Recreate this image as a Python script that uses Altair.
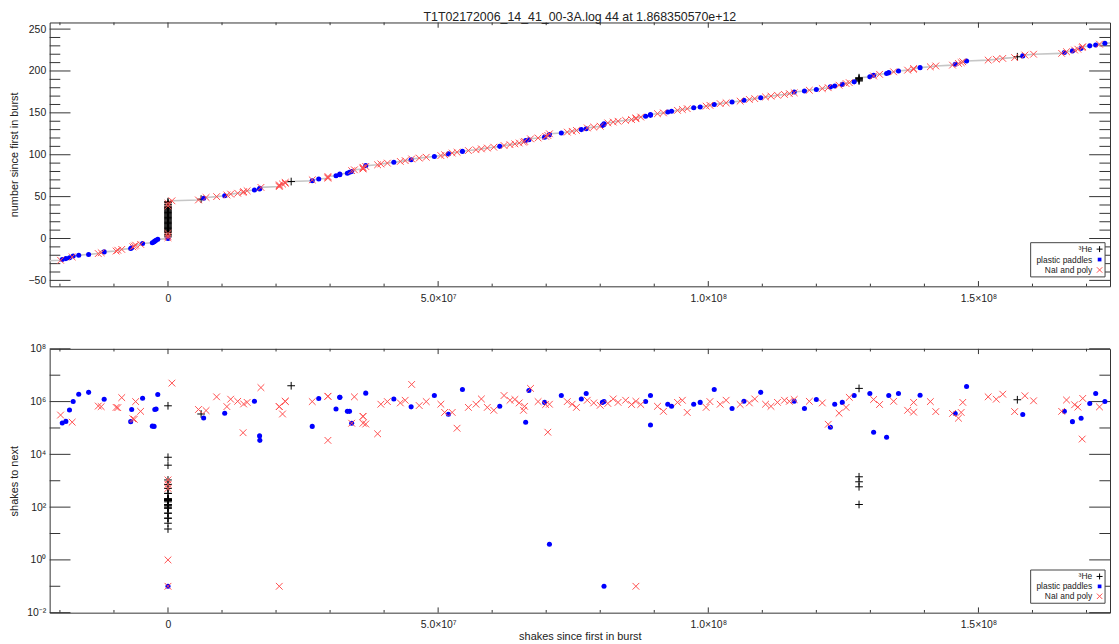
import altair as alt
import numpy as np
import pandas as pd

FONT = "Liberation Sans"
TITLE = "T1T02172006_14_41_00-3A.log 44 at 1.868350570e+12"
FRAME = "#333333"
KIND_NAMES = {"H": "³He", "P": "plastic paddles", "N": "NaI and poly"}
LEGEND_ORDER = ["H", "P", "N"]

# ---- events -------------------------------------------------------------
# x: shakes since first in burst, in units of 1e6 shakes
# kind: H = 3He, P = plastic paddles, N = NaI and poly
# glog: log10(shakes to next)

# before the burst
pre_x = [-23.5, -19.88, -19.57, -18.9, -18.23, -17.73, -17.55, -16.52, -14.69,
         -12.9, -12.36, -11.81, -9.6, -9.29, -8.56, -6.90, -6.72, -6.5, -6.24,
         -5.99, -5.07, -4.70, -2.9, -2.57, -2.44, -2.2, -1.89]
pre_kind = "NNPPPNPPPNNPNNNPPNNNNPPPPPP"
pre_glog = [5.9, 5.49, 5.19, 5.25, 5.68, 5.22, 6.00, 6.28, 6.35, 5.83, 5.81, 6.09,
            5.78, 5.77, 6.15, 5.24, 5.70, 5.35, 5.33, 6.00, 5.63, 6.13, 5.07, 5.06,
            5.70, 5.72, 6.27]

# the burst itself (all at the first-in-burst time)
burst_x = [0.0, 0.0, 0.0, 0.0, 0.0, 0.0, 0.0, 0.0, 0.0, 0.0,
           0.0, 0.0, 0.0, 0.0, 0.0, 0.0, 0.0, 0.0, 0.0, 0.0,
           0.0, 0.0, 0.0, 0.0, 0.0, 0.0, 0.0, 0.0, 0.0, 0.0,
           0.0, 0.0, 0.0, 0.0, 0.0, 0.0, 0.0, 0.0, 0.0, 0.0,
           0.0, 0.0, 0.0, 0.0, 0.0]
burst_kind = "PNHNHHNHHHHHHHHHHHHHHHHHHHHHHHHHHHHHHHHNHHNHH"
burst_glog = [-1.0, -1.0, 2.27, 0.0, 2.09, 1.96, 3.03,
              2.27, 1.77, 2.27, 1.58, 2.52, 2.20, 1.39, 2.27, 2.30, 1.17,
              2.27, 2.71, 2.05, 2.25, 3.03, 2.32, 1.96, 2.27, 2.86, 2.09,
              3.59, 2.27, 2.30, 1.77, 2.24, 2.52, 2.27, 3.89, 2.09, 2.27,
              1.58, 2.30,
              2.86, 2.27, 2.00, 2.71, 2.27, 5.84]

# after the burst, up to ~4e7
early_x = [0.73, 5.64, 6.13, 6.60, 7.05, 9.00, 10.5, 10.9, 11.6, 12.9, 13.9, 14.0,
           14.65, 16.0, 16.95, 17.0, 17.2, 20.6, 20.6, 20.6, 21.2, 21.7, 21.7, 22.8,
           26.7, 26.7, 27.9, 29.6, 29.6, 29.6, 31.1, 31.8, 31.8, 33.2, 33.6, 34.0,
           34.0, 34.5, 36.1, 36.1, 36.1, 36.6, 36.6, 38.8]
early_kind = "NNHPNNPNNNNNNPPPNNNNNNNHPNPNNNPPPPPPNNNNNNPN"
early_glog = [6.70, 5.70, 5.53, 5.38, 5.66, 6.18, 5.56, 5.81, 6.09, 6.01,
              4.82, 5.91, 5.97, 6.01, 4.70, 4.53, 6.53, 5.81, -1.0, 5.81,
              5.53, 6.01, 6.01, 6.60, 5.06, 6.00, 6.12, 6.20, 4.53, 6.20,
              5.72, 6.16, 6.16, 5.63, 5.63, 5.18, 5.18, 6.18, 5.44, 5.18,
              5.44, 5.15, 6.32, 4.78]

# ~4e7 .. 1.48e8
mid_x = [39.4, 40.6, 41.8, 43.0, 43.9, 45.0, 45.1, 46.5, 47.8, 49.3, 50.5, 51.2,
         51.9, 52.6, 53.5, 54.5, 55.6,
         57.0, 58.0, 59.1, 60.3, 61.4, 62.2, 63.3, 64.2, 65.0, 65.8, 66.0, 66.2,
         66.8, 67.1, 68.5, 69.7, 69.9, 70.3, 70.6, 70.6, 72.8,
         73.9, 74.8, 75.6, 76.5, 77.4, 77.6, 78.8, 80.0, 80.4, 80.7, 80.7, 81.4,
         82.4, 83.3, 84.7, 85.8, 86.6, 86.6, 87.5, 88.4, 89.3, 89.3, 90.6, 91.7,
         92.5, 93.2, 94.3, 95.2, 96.1, 97.3, 98.5, 99.6,
         100.3, 101.1, 102.2, 103.3, 104.4, 105.9, 106.6, 107.6, 108.6, 109.7,
         110.6, 111.6, 112.8, 114.1, 115.0, 115.9, 115.9, 117.8, 118.7, 120.0,
         121.1, 122.2, 122.6, 123.4, 124.2, 124.8, 125.5, 126.1, 127.0,
         127.9, 127.9, 127.9, 127.9, 127.9,
         129.9, 130.6, 130.6, 131.7, 133.0, 133.4, 134.3, 135.2, 136.9, 138.0,
         138.0, 139.2, 141.1, 142.1, 145.2, 145.7, 146.3, 146.8, 147.1]
mid_kind = ("NNPNNPNNNPNNPNNPN"
            "NNNNPNNNNNNPPNNPNNPNP"
            "NNNPPNNNPPPNNNNNNNNPPPNNPPNNNPPN"
            "NPNNPNPNNPNNNNNNPPNPNNPPNPNNP"
            "HHHHH"
            "PNPNPPNPNNNPNNNPNNN")
mid_glog = [5.90, 6.00, 6.10, 5.95, 6.05, 5.80, 6.65, 5.85, 6.00, 6.23, 5.90, 5.59,
            5.52, 5.59, 4.99, 6.46, 5.78,
            5.90, 6.10, 5.78, 5.67, 5.82, 6.23, 6.05, 6.08, 5.95, 5.67, 5.82, 5.22,
            6.42, 6.50, 6.00, 5.97, 5.89, 4.84, 0.59, 5.90, 6.23,
            6.00, 5.90, 5.78, 6.10, 6.31, 6.05, 5.95, 5.86, 5.97, -1.0, 6.00, 5.93,
            6.10, 5.97, 6.05, 5.89, -1.0, 6.01, 5.89, 6.00, 5.11, 6.23, 5.82, 5.63,
            5.90, 5.82, 5.97, 6.05, 5.59, 5.90, 5.97, 5.78,
            6.00, 6.46, 5.90, 6.05, 5.74, 5.89, 6.01, 5.95, 6.10, 6.35,
            5.90, 5.82, 5.97, 6.05, 6.01, 6.08, 6.01, 5.74, 6.01, 6.08,
            5.95, 5.14, 5.03, 5.90, 5.56, 5.97, 5.78, 6.16, 6.23,
            3.15, 2.96, 2.77, 2.10, 6.50,
            6.31, 6.08, 4.84, 5.89, 4.65, 6.23, 6.01, 6.31, 5.67, 5.97,
            5.60, 6.24, 6.00, 5.62, 5.55, 5.55, 5.37, 5.59, 5.97]

# the last stretch
late_x = [147.8, 151.8, 153.3, 154.5, 156.7, 157.2, 158.2, 158.6, 160.2, 165.4,
          165.9, 166.3, 167.4, 167.8, 168.4, 169.0, 169.2, 169.3, 170.6, 171.7,
          172.4, 173.4, 175.5]
late_kind = "PNNNNHPNNNPNPNNPNNPPNPP"
late_glog = [6.57, 6.18, 6.09, 6.28, 5.62, 6.07, 5.51, 6.22, 6.03, 5.63,
             5.63, 6.06, 5.24, 5.88, 5.79, 5.37, 4.58, 6.12, 5.93, 6.31,
             5.80, 6.00, 6.00]

# axis ticks
x_major = [0, 50, 100, 150]
x_minor = [-20, -10, 10, 20, 30, 40, 60, 70, 80, 90, 110, 120, 130, 140, 160, 170]
ytop_major = [-50, 0, 50, 100, 150, 200, 250]
ytop_minor = [-40, -30, -20, -10, 10, 20, 30, 40, 60, 70, 80, 90, 110, 120, 130,
              140, 160, 170, 180, 190, 210, 220, 230, 240]
ybot_major = [1e-2, 1e0, 1e2, 1e4, 1e6, 1e8]
ybot_minor = [1e-1, 1e1, 1e3, 1e5, 1e7]

# ---- assemble --------------------------------------------------------------
xs = pre_x + burst_x + early_x + mid_x + late_x
ks = list(pre_kind + burst_kind + early_kind + mid_kind + late_kind)
gl = pre_glog + burst_glog + early_glog + mid_glog + late_glog
assert len(xs) == len(ks) == len(gl), (len(xs), len(ks), len(gl))

df = pd.DataFrame({"x": xs, "kind": ks, "glog": gl})
n_before = len(pre_x)                       # events before the first in burst
df["idx"] = np.arange(len(df)) - n_before   # "number since first in burst"
df["gap"] = 10.0 ** df["glog"]              # "shakes to next"

W, H = 1069, 266
XS = alt.Scale(domain=[-21.9, 174.35], nice=False, zero=False)
YS_TOP = alt.Scale(domain=[-57.1, 257.9], nice=False, zero=False)
YS_BOT = alt.Scale(type="log", domain=[0.01, 1e8], nice=False)

PLUS = "M-1,0L1,0M0,-1L0,1"
XMARK = "M-1,-1L1,1M-1,1L1,-1"
BLUE = "#0000ff"
RED = "#ff4f4f"

XLABELS = ("datum.value == 0 ? '0' : datum.value == 50 ? '5.0×10⁷' : "
           "datum.value == 100 ? '1.0×10⁸' : '1.5×10⁸'")
YLOGLABELS = ("datum.value < 0.05 ? '10⁻²' : datum.value < 5 ? '10⁰' : "
              "datum.value < 500 ? '10²' : datum.value < 50000 ? '10⁴' : "
              "datum.value < 5e6 ? '10⁶' : '10⁸'")


def x_axis(title):
    kw = dict(values=x_major, labelExpr=XLABELS, ticks=False, tickSize=0,
              domain=False, grid=False, labelPadding=7, labelFontSize=10.5)
    if title:
        return alt.Axis(title=title, titleFontSize=11, titleY=24,
                        titleBaseline="middle", **kw)
    return alt.Axis(title=None, **kw)


def y_axis(title, values, label_expr=None):
    kw = dict(values=values, ticks=False, tickSize=0, domain=False, grid=False,
              labelPadding=4, labelFontSize=10.5, title=title, titleFontSize=11,
              titleAngle=270, titleX=-35, titleY=H / 2, titleAlign="center",
              titleBaseline="middle")
    if label_expr:
        kw["labelExpr"] = label_expr
    return alt.Axis(**kw)


def one_row():
    return alt.Chart(pd.DataFrame({"k": [0]}))


def tick_layers(yscale, ymaj, ymin, xax, yax):
    out = []
    for vals, ln in ((x_major, 5.3), (x_minor, 2.7)):
        d = pd.DataFrame({"x": vals})
        for y0, y1 in ((0, ln), (H, H - ln)):
            out.append(alt.Chart(d).mark_rule(color=FRAME, strokeWidth=1).encode(
                x=alt.X("x:Q", scale=XS, axis=xax, title=None),
                y=alt.value(y0), y2=alt.value(y1)))
    for vals, ln in ((ymaj, 21), (ymin, 10.7)):
        d = pd.DataFrame({"yv": vals})
        for x0, x1 in ((0, ln), (W, W - ln)):
            out.append(alt.Chart(d).mark_rule(color=FRAME, strokeWidth=1).encode(
                y=alt.Y("yv:Q", scale=yscale, axis=yax),
                x=alt.value(x0), x2=alt.value(x1)))
    return out


def legend_layers(rows):
    out = [one_row().mark_rect(fill="white", stroke="#444444", strokeWidth=1).encode(
        x=alt.value(989), x2=alt.value(1064), y=alt.value(rows[0] - 6.5),
        y2=alt.value(rows[2] + 7))]
    for k, ry in zip(LEGEND_ORDER, rows):
        out.append(one_row().mark_text(align="right", baseline="middle", fontSize=8.5,
                                       font=FONT, color="#222222").encode(
            x=alt.value(1051), y=alt.value(ry), text=alt.value(KIND_NAMES[k])))
    out.append(one_row().mark_point(shape=PLUS, filled=False, size=36, strokeWidth=1,
                                    color="black", opacity=1).encode(
        x=alt.value(1058.5), y=alt.value(rows[0])))
    out.append(one_row().mark_square(size=14, color=BLUE, opacity=1).encode(
        x=alt.value(1058.5), y=alt.value(rows[1])))
    out.append(one_row().mark_point(shape=XMARK, filled=False, size=30, strokeWidth=1,
                                    color=RED, opacity=1).encode(
        x=alt.value(1058.5), y=alt.value(rows[2])))
    return out


def data_layers(yfield, yscale, yax, xax, with_line):
    enc = dict(x=alt.X("x:Q", scale=XS, axis=xax, title=None),
               y=alt.Y(f"{yfield}:Q", scale=yscale, axis=yax))
    base = alt.Chart(df)
    out = []
    if with_line:
        out.append(base.mark_line(color="#c6c6c6", strokeWidth=1.6, clip=True).encode(
            order=alt.Order("idx:Q"), **enc))
    out.append(base.transform_filter(alt.datum.kind == "H").mark_point(
        shape=PLUS, filled=False, size=60, strokeWidth=1, color="black", opacity=1,
        clip=True).encode(**enc))
    out.append(base.transform_filter(alt.datum.kind == "P").mark_circle(
        size=26, color=BLUE, opacity=1, clip=True).encode(**enc))
    out.append(base.transform_filter(alt.datum.kind == "N").mark_point(
        shape=XMARK, filled=False, size=46, strokeWidth=1, color=RED, opacity=1,
        clip=True).encode(**enc))
    return out


xax_top = x_axis(None)
yax_top = y_axis("number since first in burst", ytop_major)
xax_bot = x_axis("shakes since first in burst")
yax_bot = y_axis("shakes to next", ybot_major, YLOGLABELS)

top = alt.layer(
    *tick_layers(YS_TOP, ytop_major, ytop_minor, xax_top, yax_top),
    *data_layers("idx", YS_TOP, yax_top, xax_top, True),
    *legend_layers([228.5, 239, 249.5]),
).properties(
    width=W, height=H,
    title=alt.TitleParams(text=TITLE, fontSize=12.5, font=FONT, fontWeight="normal",
                          color="#222222", anchor="middle", frame="group", offset=-2),
)

bottom = alt.layer(
    *tick_layers(YS_BOT, ybot_major, ybot_minor, xax_bot, yax_bot),
    *data_layers("gap", YS_BOT, yax_bot, xax_bot, False),
    *legend_layers([229.5, 239.5, 249.5]),
).properties(width=W, height=H)

chart = alt.vconcat(top, bottom, spacing=39).properties(padding=0).configure_axis(
    labelFont=FONT, titleFont=FONT, labelColor="#222222", titleColor="#222222",
    titleFontWeight="normal",
).configure_view(stroke=FRAME, strokeWidth=1)

chart.save("out.html", embed_options={"renderer": "svg", "actions": False})
